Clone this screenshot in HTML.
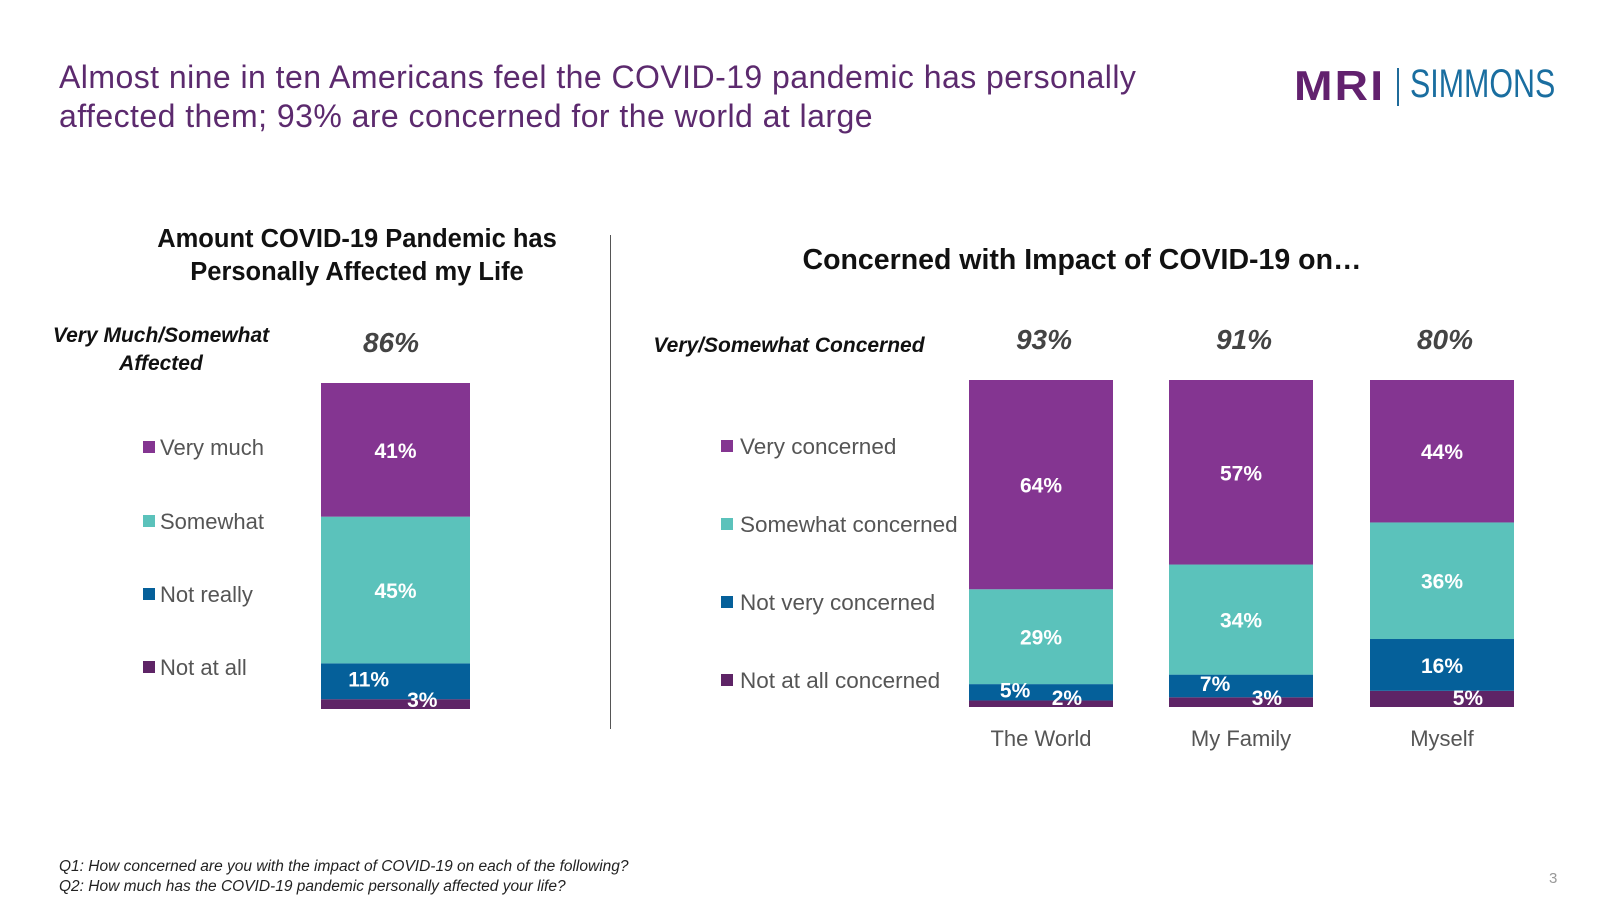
<!DOCTYPE html>
<html><head><meta charset="utf-8"><style>
body{margin:0;width:1600px;height:900px;background:#fff;font-family:"Liberation Sans",sans-serif;position:relative;overflow:hidden}
.a{position:absolute;white-space:nowrap}
</style></head><body>
<div class="a" style="left:59px;top:58px;font-size:32px;letter-spacing:0.45px;line-height:39px;color:#5c2a6e">Almost nine in ten Americans feel the COVID-19 pandemic has personally<br>affected them; 93% are concerned for the world at large</div>
<div class="a" style="left:1294px;top:62px;height:46px">
<span style="position:absolute;left:0;top:0;font-size:42px;font-weight:900;color:#62216e;letter-spacing:2px;transform:scaleX(1.1);transform-origin:left">MRI</span>
<span style="position:absolute;left:103px;top:6px;width:2px;height:38px;background:#1f6b9a"></span>
<span style="position:absolute;left:116px;top:0;font-size:40px;color:#1a6ea0;transform:scaleX(0.76);transform-origin:left">SIMMONS</span></div>
<div class="a" style="left:610px;top:235px;width:1px;height:494px;background:#555"></div>
<svg id="c" width="1600" height="900" style="position:absolute;left:0;top:0"></svg>
<div class="a" style="left:59px;top:857px;font-size:15.5px;line-height:20px;font-style:italic;color:#222">Q1: How concerned are you with the impact of COVID-19 on each of the following?<br>Q2: How much has the COVID-19 pandemic personally affected your life?</div>
<div class="a" style="left:1549px;top:870px;font-size:15px;color:#999">3</div>
<script>
const leftCats=["Not at all","Not really","Somewhat","Very much"];
const leftVals=[3,11,45,41];
const leftTotal="86%";
const rightCats=["The World","My Family","Myself"];
const veryConcerned=[64,57,44];
const somewhatConcerned=[29,34,36];
const notVery=[5,7,16];
const notAtAll=[2,3,5];
const rightTotals=["93%","91%","80%"];
const colors=["#5e2466","#05609a","#5bc2bb","#843591"];
const svg=document.getElementById('c');const NS="http://www.w3.org/2000/svg";
function el(t,a,txt){const e=document.createElementNS(NS,t);for(const k in a)e.setAttribute(k,a[k]);if(txt!==undefined)e.textContent=txt;svg.appendChild(e);return e;}
const F='"Liberation Sans",sans-serif';
function txt(x,y,s,o){return el('text',Object.assign({x:x,y:y,'font-family':F,'text-anchor':'middle'},o),s);}
let t=txt(357,247,"Amount COVID-19 Pandemic has",{'font-size':25.5,'font-weight':'bold',fill:'#111'});
t=txt(357,280,"Personally Affected my Life",{'font-size':25.5,'font-weight':'bold',fill:'#111'});
t=txt(1082,269,"Concerned with Impact of COVID-19 on…",{'font-size':28.5,'font-weight':'bold',fill:'#111'});
t=txt(161,342,"Very Much/Somewhat",{'font-size':21,'font-weight':'bold','font-style':'italic',fill:'#111'});
t=txt(161,370,"Affected",{'font-size':21,'font-weight':'bold','font-style':'italic',fill:'#111'});
t=txt(789,352,"Very/Somewhat Concerned",{'font-size':21,'font-weight':'bold','font-style':'italic',fill:'#111'});
t=txt(391,352,leftTotal,{'font-size':28,'font-weight':'bold','font-style':'italic',fill:'#444'});
function stack(x0,w,vals,names,bot,h){
  const total=vals.reduce((a,b)=>a+b,0);
  let cum=0;const labels=[];
  vals.forEach((v,i)=>{
    const y1=bot-(cum+v)/total*h,hh=v/total*h;
    const r=el('rect',{x:x0,y:y1,width:w,height:hh,fill:colors[i]});
    
    
    let ly=y1+hh/2+8,lx=x0+w/2;
    if(i===0){lx=x0+w*0.68;ly=bot-2;}
    if(i===1&&vals[i]<12){lx=x0+w*0.32;ly=y1+hh/2+5;}
    labels.push([lx,ly,v]);
    cum+=v;
  });
  labels.forEach(l=>{
    const tt=txt(l[0],l[1],l[2]+'%',{'font-size':21,'font-weight':'bold',fill:'#fff'});
    
    
  });
}
stack(321,149,leftVals,["not-at-all","not-really","somewhat","very-much"],709,326);
const lly=[667,594,521,447];
leftCats.forEach((c,i)=>{
  const r=el('rect',{x:143,y:lly[i]-6,width:12,height:12,fill:colors[i]});
  
  const tt=el('text',{x:160,y:lly[i]+8,'font-family':F,'font-size':22,fill:'#555'},c);
  
});
const rx=[969,1169,1370],rw=144,rb=707,rh=327;
const rlabels=["Not at all concerned","Not very concerned","Somewhat concerned","Very concerned"];
rightCats.forEach((c,j)=>{
  stack(rx[j],rw,[notAtAll[j],notVery[j],somewhatConcerned[j],veryConcerned[j]],["not-at-all","not-very","somewhat","very"],rb,rh);
  let tt=txt(rx[j]+rw/2,746,c,{'font-size':22,fill:'#555'});
  
  tt=txt(rx[j]+rw/2+3,349,rightTotals[j],{'font-size':28,'font-weight':'bold','font-style':'italic',fill:'#444'});
  
});
const rly=[680,602,524,446];
rlabels.forEach((c,i)=>{
  const r=el('rect',{x:721,y:rly[i]-6,width:12,height:12,fill:colors[i]});
  
  const tt=el('text',{x:740,y:rly[i]+8,'font-family':F,'font-size':22.5,fill:'#555'},c);
  
});
</script>
</body></html>
